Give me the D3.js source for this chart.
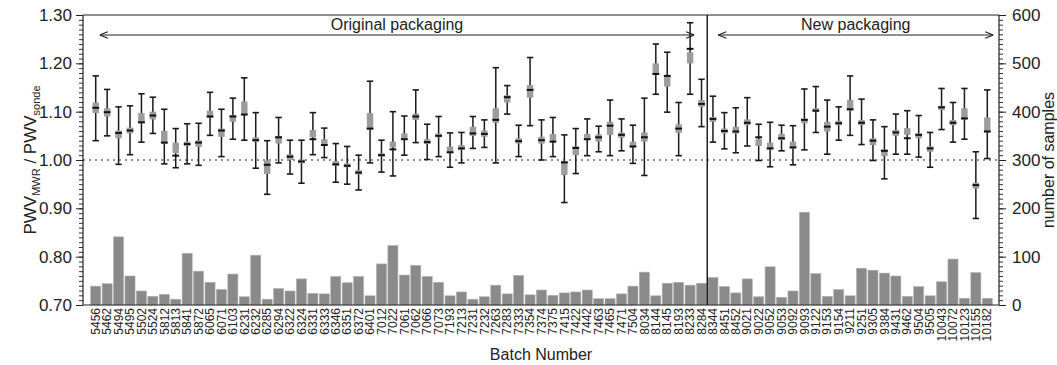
<!DOCTYPE html>
<html>
<head>
<meta charset="utf-8">
<script src="https://cdn.jsdelivr.net/npm/d3@7"></script>
<style>
  body { margin: 0; background: #fff; }
  svg text { font-family: "Liberation Sans", Arial, sans-serif; fill: #222; }
</style>
</head>
<body>
<div id="chart"></div>
<script>
const batches = [
  "5456","5462","5494","5495","5502","5524","5812","5813","5841","5872",
  "6065","6071","6103","6231","6232","6285","6294","6322","6324","6331",
  "6333","6346","6351","6372","6401","7012","7022","7061","7062","7066",
  "7073","7193","7213","7231","7232","7263","7283","7333","7354","7374",
  "7375","7415","7422","7442","7463","7465","7471","7504","8034","8144",
  "8145","8193","8233","8284","8344","8451","8452","9021","9022","9052",
  "9053","9092","9093","9122","9153","9154","9211","9251","9305","9384",
  "9431","9462","9504","9505","10043","10072","10123","10155","10182"
];
const firstNew = "8344";

// number of samples per batch (right axis)
const nSamples = [
  39, 44, 141, 60, 29, 18, 22, 12, 107, 70,
  47, 32, 64, 17, 103, 12, 34, 29, 54, 24,
  23, 59, 46, 59, 19, 85, 123, 62, 82, 59,
  47, 19, 27, 12, 17, 41, 23, 61, 21, 31,
  20, 25, 27, 31, 13, 13, 23, 39, 68, 19,
  45, 47, 41, 45, 57, 38, 25, 54, 17, 79,
  16, 29, 192, 65, 18, 32, 19, 76, 72, 66,
  60, 18, 38, 19, 48, 95, 14, 67, 14
];

// PWV ratio: whisker ends, black tick, grey box
const whiskHi = [
  1.174, 1.146, 1.110, 1.112, 1.137, 1.130, 1.105, 1.065, 1.075, 1.076,
  1.140, 1.105, 1.128, 1.170, 1.098, 1.040, 1.088, 1.041, 1.041, 1.098,
  1.066, 1.034, 1.028, 1.010, 1.163, 1.041, 1.100, 1.091, 1.145, 1.074,
  1.090, 1.056, 1.057, 1.090, 1.083, 1.191, 1.154, 1.072, 1.212, 1.083,
  1.088, 1.052, 1.065, 1.085, 1.070, 1.124, 1.085, 1.072, 1.128, 1.240,
  1.223, 1.119, 1.284, 1.167, 1.132, 1.098, 1.108, 1.129, 1.074, 1.078,
  1.072, 1.071, 1.147, 1.152, 1.124, 1.110, 1.174, 1.126, 1.083, 1.069,
  1.095, 1.102, 1.092, 1.057, 1.148, 1.119, 1.148, 1.017, 1.145
];
const whiskLo = [
  1.040, 1.050, 0.991, 1.011, 1.037, 1.055, 0.992, 0.984, 0.992, 0.989,
  1.051, 1.007, 1.043, 1.041, 0.983, 0.929, 0.994, 0.971, 0.952, 1.011,
  1.005, 0.954, 0.950, 0.938, 0.994, 0.975, 0.967, 1.010, 1.036, 1.001,
  1.007, 0.985, 0.994, 1.024, 1.026, 0.994, 1.095, 1.007, 1.071, 1.000,
  1.007, 0.912, 0.972, 1.009, 1.017, 1.009, 1.019, 0.993, 0.968, 1.136,
  1.099, 1.009, 1.136, 1.069, 1.037, 1.023, 1.015, 1.029, 0.999, 0.986,
  1.019, 0.990, 1.021, 1.057, 1.012, 1.041, 1.051, 1.032, 0.999, 0.961,
  1.012, 1.012, 1.006, 0.985, 1.063, 1.037, 1.043, 0.879, 1.003
];
const median = [
  1.108, 1.099, 1.056, 1.061, 1.078, 1.092, 1.036, 1.009, 1.033, 1.036,
  1.090, 1.061, 1.090, 1.094, 1.041, 0.990, 1.047, 1.007, 0.997, 1.043,
  1.031, 0.991, 0.988, 0.974, 1.065, 1.010, 1.022, 1.043, 1.090, 1.037,
  1.050, 1.016, 1.024, 1.055, 1.054, 1.083, 1.130, 1.039, 1.145, 1.041,
  1.038, 0.995, 1.025, 1.043, 1.047, 1.071, 1.052, 1.028, 1.047, 1.178,
  1.174, 1.065, 1.230, 1.116, 1.085, 1.060, 1.059, 1.077, 1.047, 1.024,
  1.045, 1.026, 1.083, 1.102, 1.069, 1.076, 1.105, 1.077, 1.040, 1.019,
  1.057, 1.045, 1.052, 1.024, 1.109, 1.077, 1.086, 0.948, 1.059
];
const boxHi = [
  1.119, 1.107, 1.061, 1.067, 1.097, 1.100, 1.060, 1.036, 1.038, 1.041,
  1.102, 1.065, 1.093, 1.121, 1.047, 0.999, 1.050, 1.012, 1.001, 1.062,
  1.043, 0.998, 0.993, 0.979, 1.097, 1.014, 1.038, 1.055, 1.096, 1.043,
  1.055, 1.028, 1.031, 1.069, 1.061, 1.107, 1.134, 1.045, 1.155, 1.048,
  1.054, 0.998, 1.028, 1.054, 1.053, 1.079, 1.057, 1.038, 1.057, 1.200,
  1.176, 1.074, 1.223, 1.124, 1.089, 1.065, 1.069, 1.084, 1.043, 1.036,
  1.054, 1.038, 1.086, 1.107, 1.079, 1.081, 1.124, 1.083, 1.045, 1.022,
  1.062, 1.066, 1.055, 1.028, 1.112, 1.083, 1.107, 0.953, 1.088
];
const boxLo = [
  1.097, 1.090, 1.045, 1.055, 1.076, 1.084, 1.034, 1.014, 1.029, 1.027,
  1.088, 1.048, 1.079, 1.093, 1.038, 0.971, 1.034, 1.000, 0.993, 1.047,
  1.030, 0.988, 0.985, 0.970, 1.063, 1.007, 1.026, 1.042, 1.083, 1.033,
  1.047, 1.014, 1.021, 1.050, 1.048, 1.077, 1.119, 1.034, 1.129, 1.034,
  1.040, 0.969, 1.010, 1.043, 1.038, 1.052, 1.046, 1.026, 1.038, 1.178,
  1.152, 1.056, 1.200, 1.110, 1.079, 1.055, 1.055, 1.072, 1.029, 1.022,
  1.041, 1.024, 1.076, 1.100, 1.059, 1.072, 1.102, 1.072, 1.031, 1.008,
  1.050, 1.052, 1.045, 1.017, 1.103, 1.072, 1.084, 0.941, 1.057
];

const leftTicks = [0.70, 0.80, 0.90, 1.00, 1.10, 1.20, 1.30];
const rightTicks = [0, 100, 200, 300, 400, 500, 600];

const W = 1057, H = 365;
const plot = { left: 83, right: 999, top: 15, bottom: 305 };

const svg = d3.select("#chart")
  .append("svg")
  .attr("width", W)
  .attr("height", H);

const x = d3.scaleBand()
  .domain(batches)
  .range([90, 993])
  .paddingInner(0.12)
  .paddingOuter(0.06);

const yL = d3.scaleLinear().domain([0.70, 1.30]).range([plot.bottom, plot.top]);
const yR = d3.scaleLinear().domain([0, 600]).range([plot.bottom, plot.top]);

const cx = d => x(d) + x.bandwidth() / 2;

// sample count bars
svg.selectAll(".bar")
  .data(batches)
  .enter().append("rect")
  .attr("class", "bar")
  .attr("x", d => x(d))
  .attr("width", x.bandwidth())
  .attr("y", (d, i) => yR(nSamples[i]))
  .attr("height", (d, i) => yR(0) - yR(nSamples[i]))
  .style("fill", "#8a8a8a")
  .style("stroke", "#b0b0b0")
  .style("stroke-width", 0.6);

// reference line at ratio 1
svg.append("line")
  .attr("x1", plot.left).attr("x2", plot.right)
  .attr("y1", yL(1)).attr("y2", yL(1))
  .style("stroke", "#222")
  .style("stroke-width", 1.2)
  .style("stroke-dasharray", "2,4");

// divider between old and new packaging
const divX = (x(firstNew) + x(batches[batches.indexOf(firstNew) - 1]) + x.bandwidth()) / 2;
svg.append("line")
  .attr("x1", divX).attr("x2", divX)
  .attr("y1", plot.top).attr("y2", plot.bottom)
  .style("stroke", "#111")
  .style("stroke-width", 1.4);

// error bars
const eb = svg.selectAll(".eb")
  .data(batches)
  .enter().append("g")
  .attr("class", "eb");

eb.append("line")
  .attr("x1", cx).attr("x2", cx)
  .attr("y1", (d, i) => yL(whiskLo[i]))
  .attr("y2", (d, i) => yL(whiskHi[i]))
  .style("stroke", "#1a1a1a")
  .style("stroke-width", 1.5);

[whiskLo, whiskHi].forEach(arr => {
  eb.append("line")
    .attr("x1", d => cx(d) - 3.2).attr("x2", d => cx(d) + 3.2)
    .attr("y1", (d, i) => yL(arr[i]))
    .attr("y2", (d, i) => yL(arr[i]))
    .style("stroke", "#1a1a1a")
    .style("stroke-width", 1.6);
});

eb.append("rect")
  .attr("x", d => cx(d) - 3.2)
  .attr("width", 6.4)
  .attr("y", (d, i) => yL(boxHi[i]))
  .attr("height", (d, i) => yL(boxLo[i]) - yL(boxHi[i]))
  .style("fill", "#9c9c9c");

eb.append("line")
  .attr("x1", d => cx(d) - 3.4).attr("x2", d => cx(d) + 3.4)
  .attr("y1", (d, i) => yL(median[i]))
  .attr("y2", (d, i) => yL(median[i]))
  .style("stroke", "#111")
  .style("stroke-width", 2);

// frame
svg.append("line")
  .attr("x1", plot.left).attr("x2", plot.right)
  .attr("y1", plot.top).attr("y2", plot.top)
  .style("stroke", "#222").style("stroke-width", 1.2);
svg.append("line")
  .attr("x1", plot.left).attr("x2", plot.right)
  .attr("y1", plot.bottom).attr("y2", plot.bottom)
  .style("stroke", "#222").style("stroke-width", 1.2);

// left axis
svg.append("g")
  .attr("transform", `translate(${plot.left},0)`)
  .call(d3.axisLeft(yL).ticks(60).tickSize(4).tickFormat(""))
  .call(g => g.select(".domain").remove())
  .call(g => g.selectAll("line").style("stroke", "#333"));
svg.append("g")
  .attr("transform", `translate(${plot.left},0)`)
  .call(d3.axisLeft(yL).tickValues(leftTicks).tickSize(7).tickPadding(4).tickFormat(d3.format(".2f")))
  .call(g => g.select(".domain").attr("d", `M0,${plot.top}V${plot.bottom}`).style("stroke", "#222").style("stroke-width", 1.2))
  .call(g => g.selectAll("line").style("stroke", "#222"))
  .call(g => g.selectAll("text").style("font-size", "17px"));

// right axis
svg.append("g")
  .attr("transform", `translate(${plot.right},0)`)
  .call(d3.axisRight(yR).ticks(60).tickSize(4).tickFormat(""))
  .call(g => g.select(".domain").remove())
  .call(g => g.selectAll("line").style("stroke", "#333"));
svg.append("g")
  .attr("transform", `translate(${plot.right},0)`)
  .call(d3.axisRight(yR).tickValues(rightTicks).tickSize(7).tickPadding(6).tickFormat(d3.format("d")))
  .call(g => g.select(".domain").attr("d", `M0,${plot.top}V${plot.bottom}`).style("stroke", "#222").style("stroke-width", 1.2))
  .call(g => g.selectAll("line").style("stroke", "#222"))
  .call(g => g.selectAll("text").style("font-size", "17px"));

// batch labels
svg.append("g")
  .attr("transform", `translate(0,${plot.bottom})`)
  .call(d3.axisBottom(x).tickSize(0).tickPadding(0))
  .call(g => g.select(".domain").remove())
  .call(g => g.selectAll("text")
    .attr("transform", "rotate(-90)")
    .attr("x", -3)
    .attr("y", 0)
    .attr("dy", "0.35em")
    .style("text-anchor", "end")
    .style("font-size", "12px"));

// axis titles
const leftTitle = svg.append("text")
  .attr("transform", `translate(36,${(plot.top + plot.bottom) / 2}) rotate(-90)`)
  .attr("text-anchor", "middle")
  .style("font-size", "17px");
leftTitle.append("tspan").text("PWV");
leftTitle.append("tspan").attr("dy", 4).style("font-size", "11px").text("MWR");
leftTitle.append("tspan").attr("dy", -4).text(" / PWV");
leftTitle.append("tspan").attr("dy", 4).style("font-size", "11px").text("sonde");

svg.append("text")
  .attr("transform", `translate(1054,${(plot.top + plot.bottom) / 2}) rotate(-90)`)
  .attr("text-anchor", "middle")
  .style("font-size", "16px")
  .text("number of samples");

svg.append("text")
  .attr("x", (plot.left + plot.right) / 2)
  .attr("y", 360)
  .attr("text-anchor", "middle")
  .style("font-size", "16px")
  .text("Batch Number");

// packaging arrows
const defs = svg.append("defs");
defs.append("marker")
  .attr("id", "arr")
  .attr("viewBox", "0 0 10 10")
  .attr("refX", 10).attr("refY", 5)
  .attr("markerWidth", 9).attr("markerHeight", 9)
  .attr("markerUnits", "userSpaceOnUse")
  .attr("orient", "auto-start-reverse")
  .append("path")
  .attr("d", "M1,1.5L10,5L1,8.5")
  .style("fill", "none")
  .style("stroke", "#222")
  .style("stroke-width", 1.2);

const spans = [
  { text: "Original packaging", x0: cx(batches[0]) + 4, x1: divX - 13 },
  { text: "New packaging", x0: divX + 11, x1: cx(batches[batches.length - 1]) + 6 }
];
const arrowY = 35;
spans.forEach(s => {
  svg.append("line")
    .attr("x1", s.x0).attr("x2", s.x1)
    .attr("y1", arrowY).attr("y2", arrowY)
    .style("stroke", "#222")
    .style("stroke-width", 1.2)
    .attr("marker-start", "url(#arr)")
    .attr("marker-end", "url(#arr)");
  svg.append("text")
    .attr("x", (s.x0 + s.x1) / 2)
    .attr("y", 30)
    .attr("text-anchor", "middle")
    .style("font-size", "16px")
    .text(s.text);
});
</script>
</body>
</html>
